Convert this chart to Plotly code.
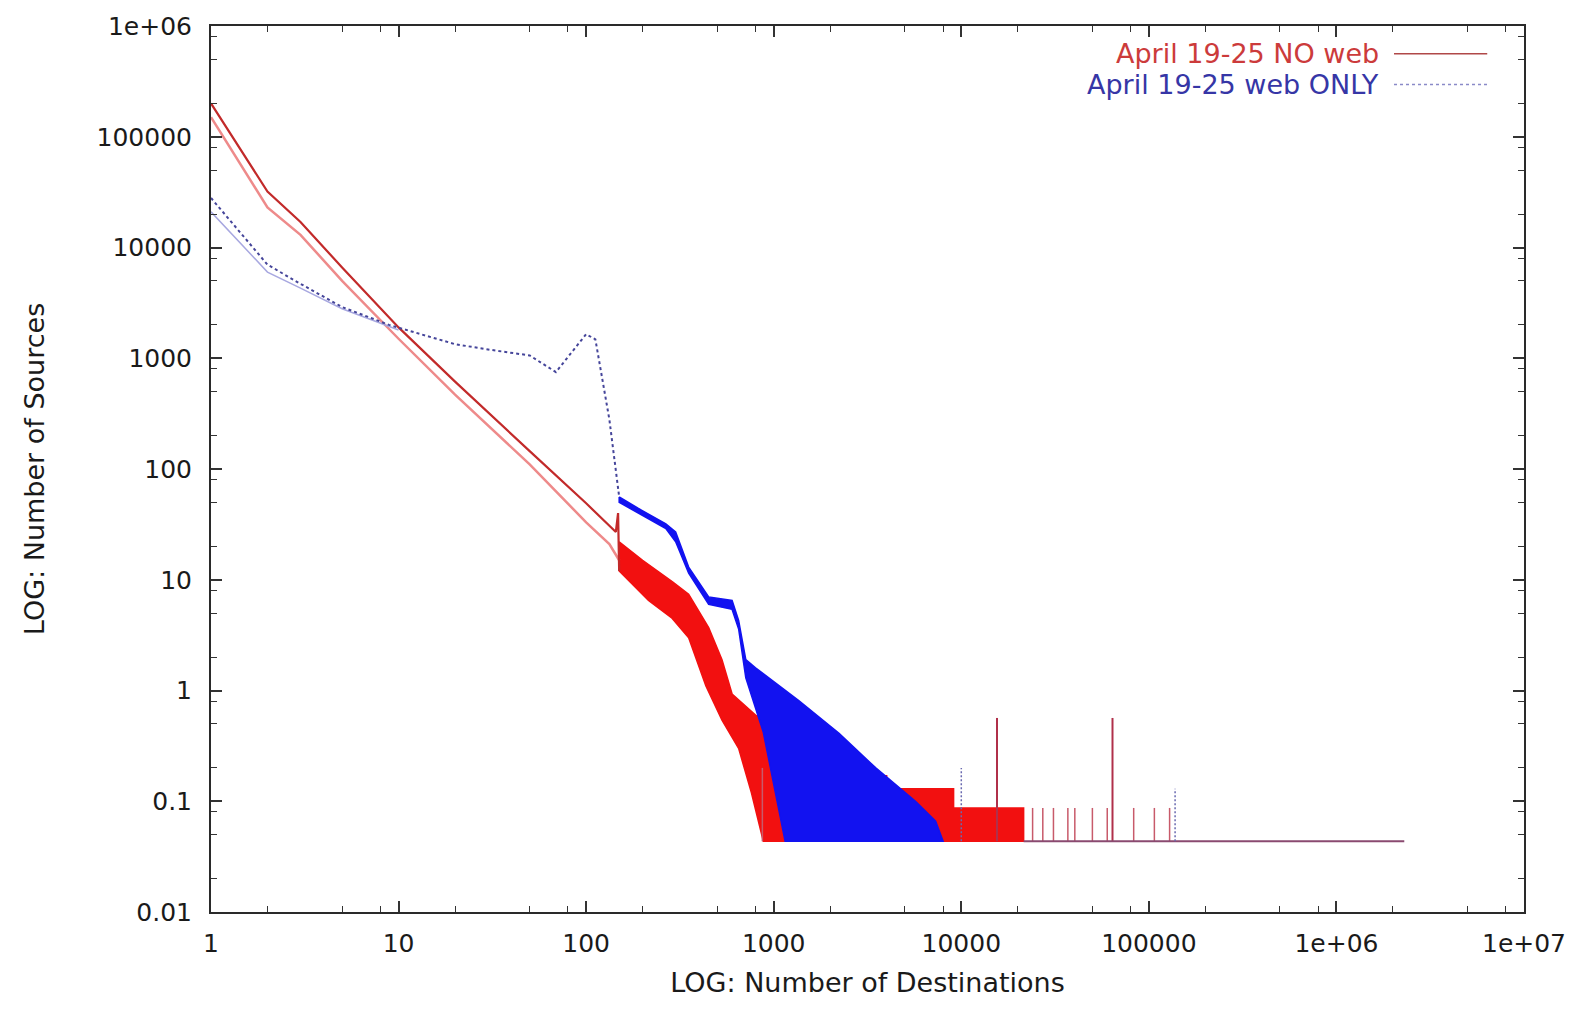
import plotly.graph_objects as go

# ---------------- tick labels ----------------
x_tick_vals = [1, 10, 100, 1000, 10000, 100000, 1e6, 1e7]
x_tick_text = ["1", "10", "100", "1000", "10000", "100000", "1e+06", "1e+07"]
y_tick_vals = [0.01, 0.1, 1, 10, 100, 1000, 10000, 100000, 1e6]
y_tick_text = ["0.01", "0.1", "1", "10", "100", "1000", "10000", "100000", "1e+06"]
minor_mult = [2, 5, 8]

# ---------------- "April 19-25 NO web" (red) ----------------
noweb_a_x = [1, 2, 3, 5, 10, 20, 50, 100, 144, 148, 150]
noweb_a_y = [200000, 32000, 17000, 6600, 1900, 615, 145, 49, 27, 40, 12]

noweb_b_x = [1, 2, 3, 5, 10, 20, 50, 100, 133, 150]
noweb_b_y = [150000, 23000, 13000, 5000, 1500, 470, 110, 33, 21, 15]

# dense region envelope (upper edge, left to right)
noweb_band_upper_x = [150, 200, 290, 352, 450, 530, 600, 800, 1500, 2500, 2500, 4000, 4000, 9100, 9100, 21500, 21500]
noweb_band_upper_y = [22, 15, 9.5, 7.4, 3.7, 1.9, 0.93, 0.6, 0.35, 0.26, 0.17, 0.17, 0.13, 0.13, 0.087, 0.087, 0.0435]
# dense region envelope (lower edge, right to left)
noweb_band_lower_x = [880, 760, 650, 530, 435, 352, 287, 215, 150]
noweb_band_lower_y = [0.0435, 0.12, 0.30, 0.54, 1.1, 3.0, 4.5, 6.5, 12]

noweb_floor = 0.0435
noweb_floor_end = 2300000
noweb_tail_x = [870, 24000, 27200, 31000, 37000, 40300, 50000, 60000, 83000, 107000, 129000]
noweb_tail_y = [0.2, 0.087, 0.087, 0.087, 0.087, 0.087, 0.087, 0.087, 0.087, 0.087, 0.087]
noweb_spike_x = [15500, 64000]
noweb_spike_y = [0.565, 0.565]

# ---------------- "April 19-25 web ONLY" (blue) ----------------
web_a_x = [1, 2, 3, 5, 8.9, 20, 30, 50, 69, 100, 112, 133, 150]
web_a_y = [28000, 7000, 4700, 2900, 2000, 1340, 1200, 1060, 750, 1650, 1480, 280, 56]

web_b_x = [1, 2, 3, 5, 10]
web_b_y = [21000, 6000, 4300, 2800, 1800]

web_band_upper_x = [150, 190, 266, 300, 352, 450, 600, 650, 710, 800, 1360, 2230, 3500, 5700, 7300, 8000]
web_band_upper_y = [56, 44, 32, 27, 13, 7, 6.5, 4.3, 1.9, 1.6, 0.81, 0.41, 0.2, 0.1, 0.066, 0.0435]
web_band_lower_x = [1150, 1000, 880, 710, 650, 600, 450, 352, 300, 266, 190, 150]
web_band_lower_y = [0.0435, 0.14, 0.42, 1.3, 3.6, 5.4, 6.0, 11.5, 22, 29, 40, 50]

web_tail_x = [10000, 138000]
web_tail_y = [0.2, 0.13]

# ---------------- colours ----------------
RED_DARK = "#c22a2a"
RED_LIGHT = "#ee8a8a"
RED_FILL = "#f21010"
BLUE_DOT = "#45459a"
BLUE_LIGHT = "#a8a8e0"
BLUE_FILL = "#1212f0"

FONT = "DejaVu Sans"
TEXT = "#1a1a1a"


def spikes(xs, ys, base):
    vx, vy = [], []
    for x, y in zip(xs, ys):
        vx += [x, x, None]
        vy += [base, y, None]
    return vx, vy


fig = go.Figure()

# red dense region
fig.add_trace(go.Scatter(
    x=noweb_band_upper_x + noweb_band_lower_x + noweb_band_upper_x[:1],
    y=noweb_band_upper_y + noweb_band_lower_y + noweb_band_upper_y[:1],
    mode="lines", fill="toself", fillcolor=RED_FILL,
    line=dict(color=RED_FILL, width=1.5), showlegend=False, hoverinfo="skip"))

sx, sy = spikes(noweb_tail_x, noweb_tail_y, noweb_floor)
fig.add_trace(go.Scatter(x=sx, y=sy, mode="lines",
                         line=dict(color="#c85a6a", width=1.5), showlegend=False))
sx, sy = spikes(noweb_spike_x, noweb_spike_y, noweb_floor)
fig.add_trace(go.Scatter(x=sx, y=sy, mode="lines",
                         line=dict(color="#b0304a", width=2), showlegend=False))
fig.add_trace(go.Scatter(x=[noweb_band_upper_x[-1], noweb_floor_end], y=[noweb_floor, noweb_floor],
                         mode="lines", line=dict(color="#8a4a70", width=2), showlegend=False))

# red lines
fig.add_trace(go.Scatter(x=noweb_b_x, y=noweb_b_y, mode="lines",
                         line=dict(color=RED_LIGHT, width=2.5), showlegend=False))
fig.add_trace(go.Scatter(x=noweb_a_x, y=noweb_a_y, mode="lines",
                         line=dict(color=RED_DARK, width=2.2), showlegend=False))

# blue dense region
fig.add_trace(go.Scatter(
    x=web_band_upper_x + web_band_lower_x + web_band_upper_x[:1],
    y=web_band_upper_y + web_band_lower_y + web_band_upper_y[:1],
    mode="lines", fill="toself", fillcolor=BLUE_FILL,
    line=dict(color=BLUE_FILL, width=1.5), showlegend=False, hoverinfo="skip"))

sx, sy = spikes(web_tail_x, web_tail_y, noweb_floor)
fig.add_trace(go.Scatter(x=sx, y=sy, mode="lines",
                         line=dict(color="#6a6ab0", width=1.5, dash="2px,2px"), showlegend=False))

# blue lines
fig.add_trace(go.Scatter(x=web_b_x, y=web_b_y, mode="lines",
                         line=dict(color=BLUE_LIGHT, width=1.5), showlegend=False))
fig.add_trace(go.Scatter(x=web_a_x, y=web_a_y, mode="lines",
                         line=dict(color=BLUE_DOT, width=2, dash="3px,3px"), showlegend=False))

decades_x = [1, 10, 100, 1000, 10000, 100000, 1e6]
decades_y = [0.01, 0.1, 1, 10, 100, 1000, 10000, 100000]
minor_x = [d * m for d in decades_x for m in minor_mult]
minor_y = [d * m for d in decades_y for m in minor_mult]

axis_common = dict(
    type="log", showgrid=False, zeroline=False,
    showline=True, linecolor="#2a2a2a", linewidth=2, mirror="allticks",
    ticks="inside", ticklen=11, tickwidth=1.5, tickcolor="#333333",
    tickfont=dict(family=FONT, size=25, color=TEXT),
)

fig.update_xaxes(
    **axis_common, range=[0, 7], tickmode="array",
    tickvals=x_tick_vals, ticktext=x_tick_text, ticklabelstandoff=8,
    minor=dict(tickmode="array", tickvals=minor_x, ticks="inside", ticklen=6,
               tickwidth=1.2, tickcolor="#333333"),
    title=dict(text="LOG: Number of Destinations",
               font=dict(family=FONT, size=27, color=TEXT), standoff=16),
)
fig.update_yaxes(
    **axis_common, range=[-2, 6], tickmode="array",
    tickvals=y_tick_vals, ticktext=y_tick_text, ticklabelstandoff=12,
    minor=dict(tickmode="array", tickvals=minor_y, ticks="inside", ticklen=6,
               tickwidth=1.2, tickcolor="#333333"),
    title=dict(text="LOG: Number of Sources",
               font=dict(family=FONT, size=27, color=TEXT), standoff=44),
)

# gnuplot-style key: text right-aligned, sample on the right
key_rows = [
    ("April 19-25 NO web", "#cc3b3b", "#b04848", "solid", 0.9686),
    ("April 19-25 web ONLY", "#3636a6", "#8a8ac8", "3px,3px", 0.934),
]
for text, tcol, lcol, dash, yy in key_rows:
    fig.add_annotation(x=0.891, y=yy, xref="paper", yref="paper", text=text,
                       showarrow=False, xanchor="right", yanchor="middle",
                       font=dict(family=FONT, size=27, color=tcol))
    fig.add_shape(type="line", xref="paper", yref="paper", x0=0.901, x1=0.972,
                  y0=yy, y1=yy, line=dict(color=lcol, width=1.5, dash=dash))

fig.update_layout(
    width=1586, height=1010,
    margin=dict(l=211, r=62, t=20, b=98),
    paper_bgcolor="white", plot_bgcolor="white",
    showlegend=False,
)

fig.write_html("out.html")
